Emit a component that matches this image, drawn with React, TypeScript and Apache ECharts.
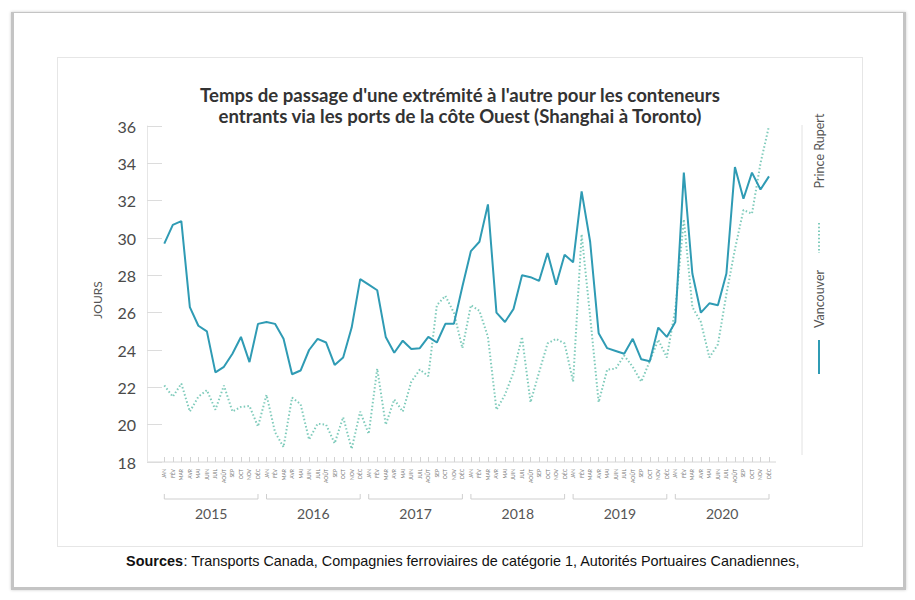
import React, { useEffect, useRef } from 'react';
import * as echarts from 'echarts';

const years = ['2015', '2016', '2017', '2018', '2019', '2020'];
const months = ['JAN', 'FÉV', 'MAR', 'AVR', 'MAI', 'JUIN', 'JUIL', 'AOÛT', 'SEP', 'OCT', 'NOV', 'DÉC'];

const vancouver = [
  29.7, 30.7, 30.9, 26.3, 25.3, 25.0, 22.8, 23.1, 23.8, 24.7, 23.35, 25.4,
  25.5, 25.4, 24.6, 22.7, 22.9, 24.0, 24.6, 24.4, 23.2, 23.6, 25.2, 27.8,
  27.5, 27.2, 24.7, 23.85, 24.5, 24.05, 24.1, 24.7, 24.4, 25.4, 25.4, 27.4,
  29.3, 29.8, 31.8, 26.0, 25.5, 26.2, 28.0, 27.9, 27.7, 29.2, 27.5, 29.1,
  28.7, 32.5, 29.8, 24.9, 24.1, 23.95, 23.8, 24.6, 23.5, 23.4, 25.2, 24.7,
  25.5, 33.5, 28.1, 26.0, 26.5, 26.4, 28.1, 33.8, 32.1, 33.5, 32.6, 33.3,
];

const princeRupert = [
  22.1, 21.5, 22.2, 20.7, 21.5, 21.85, 20.8, 22.1, 20.7, 20.95, 21.0, 19.9,
  21.6, 19.6, 18.8, 21.45, 21.1, 19.2, 20.05, 20.0, 19.0, 20.4, 18.7, 20.7,
  19.5, 23.0, 20.0, 21.35, 20.7, 22.3, 22.95, 22.6, 26.4, 26.9, 26.0, 24.1,
  26.4, 26.1, 24.7, 20.8, 21.6, 22.8, 24.7, 21.2, 22.8, 24.35, 24.6, 24.35,
  22.3, 30.2, 25.8, 21.2, 22.95, 23.0, 23.7, 23.1, 22.3, 23.4, 24.55, 23.6,
  26.2, 31.0, 26.3, 25.5, 23.6, 24.3, 27.0, 29.4, 31.5, 31.3, 34.0, 36.0,
];

const yMin = 18;
const yMax = 36;
const yStep = 2;

const titleLines = [
  "Temps de passage d'une extrémité à l'autre pour les conteneurs",
  'entrants via les ports de la côte Ouest (Shanghai à Toronto)',
];
const yAxisName = 'JOURS';
const seriesNames = ['Vancouver', 'Prince Rupert'];
const sourcesLabel = 'Sources';
const sourcesText = ': Transports Canada, Compagnies ferroviaires de catégorie 1, Autorités Portuaires Canadiennes,';

const SOLID = '#2f9bb4';
const DOTTED = '#7fcbbb';
const FONT = 'Lato, "Open Sans", sans-serif';
const SRC_FONT = '"Liberation Sans Narrow", "Liberation Sans", sans-serif';

export default function App() {
  const ref = useRef<HTMLDivElement>(null);

  useEffect(() => {
    document.body.style.margin = '0';
    const chart = echarts.init(ref.current!, null, { renderer: 'svg' });
    const categories = years.flatMap((y) => months.map((m) => `${m} ${y}`));

    chart.setOption({
      animation: false,
      grid: { left: 164.3, right: 146, top: 126, bottom: 138, containLabel: false },
      xAxis: {
        type: 'category',
        data: categories,
        boundaryGap: false,
        axisLine: { show: false },
        axisTick: { show: true, inside: true, length: 5, alignWithLabel: true, lineStyle: { color: '#d3d3d3' } },
        axisLabel: {
          interval: 0,
          rotate: 90,
          fontSize: 5,
          color: '#777',
          margin: 7,
          fontFamily: FONT,
          formatter: (v: string) => v.split(' ')[0],
        },
        splitLine: { show: false },
      },
      yAxis: {
        type: 'value',
        min: yMin,
        max: yMax,
        interval: yStep,
        offset: 17.3,
        name: yAxisName,
        nameLocation: 'middle',
        nameGap: 44,
        nameRotate: 90,
        nameTextStyle: { fontSize: 12, color: '#555', fontFamily: FONT, padding: [0, 12, 0, 0] },
        axisLine: { show: true, lineStyle: { color: '#e6e6e6' } },
        axisTick: { show: true, inside: true, length: 15, lineStyle: { color: '#dcdcdc' } },
        axisLabel: { fontSize: 16, color: '#4a4a4a', margin: 11, fontFamily: FONT },
        splitLine: { show: false },
      },
      series: [
        {
          name: seriesNames[0],
          type: 'line',
          data: vancouver,
          symbol: 'none',
          lineStyle: { color: SOLID, width: 2 },
          z: 3,
        },
        {
          name: seriesNames[1],
          type: 'line',
          data: princeRupert,
          symbol: 'none',
          lineStyle: { color: DOTTED, width: 2, type: [1.5, 2.2] },
          z: 2,
        },
      ],
    });

    const yBottom = chart.convertToPixel({ yAxisIndex: 0 }, yMin) as number;
    const yTop = chart.convertToPixel({ yAxisIndex: 0 }, yMax) as number;
    const xFirst = chart.convertToPixel({ xAxisIndex: 0 }, 0) as number;
    const xLast = chart.convertToPixel({ xAxisIndex: 0 }, categories.length - 1) as number;
    const axisLeft = xFirst - 17.3;

    const graphics: any[] = [];
    graphics.push({
      type: 'line',
      shape: { x1: axisLeft, y1: yBottom, x2: xLast + 7, y2: yBottom },
      style: { stroke: '#d6d6d6', lineWidth: 1 },
    });
    years.forEach((yr, k) => {
      const x0 = chart.convertToPixel({ xAxisIndex: 0 }, k * 12) as number;
      const x1 = chart.convertToPixel({ xAxisIndex: 0 }, k * 12 + 11) as number;
      const by = yBottom + 37;
      graphics.push({
        type: 'polyline',
        shape: { points: [[x0, by - 5], [x0, by], [x1, by], [x1, by - 5]] },
        style: { stroke: '#cfcfcf', lineWidth: 1, fill: null },
      });
      graphics.push({
        type: 'text',
        x: (x0 + x1) / 2,
        y: by + 14,
        style: { text: yr, fontSize: 14, fill: '#555', fontFamily: FONT, align: 'center', verticalAlign: 'middle' },
      });
    });
    titleLines.forEach((t, i) => {
      graphics.push({
        type: 'text',
        x: 460,
        y: 95 + i * 21,
        style: { text: t, fontSize: 18.6, fontWeight: 'bold', fill: '#333', fontFamily: FONT, align: 'center', verticalAlign: 'middle' },
      });
    });
    graphics.push({
      type: 'line',
      shape: { x1: 802, y1: yTop - 1, x2: 802, y2: 455 },
      style: { stroke: '#e2e2e2', lineWidth: 1 },
    });
    graphics.push({
      type: 'text',
      x: 819,
      y: 151,
      rotation: Math.PI / 2,
      style: { text: seriesNames[1], fontSize: 12.5, fill: '#555', fontFamily: FONT, align: 'center', verticalAlign: 'middle' },
    });
    graphics.push({
      type: 'line',
      shape: { x1: 819, y1: 223, x2: 819, y2: 253 },
      style: { stroke: DOTTED, lineWidth: 2, lineDash: [1.5, 2.2] },
    });
    graphics.push({
      type: 'text',
      x: 819,
      y: 299,
      rotation: Math.PI / 2,
      style: { text: seriesNames[0], fontSize: 12.5, fill: '#555', fontFamily: FONT, align: 'center', verticalAlign: 'middle' },
    });
    graphics.push({
      type: 'line',
      shape: { x1: 819, y1: 340, x2: 819, y2: 374 },
      style: { stroke: SOLID, lineWidth: 2 },
    });
    graphics.push({
      type: 'text',
      x: 463,
      y: 561,
      style: {
        text: `{b|${sourcesLabel}}{r|${sourcesText}}`,
        align: 'center',
        verticalAlign: 'middle',
        rich: {
          b: { fontSize: 14.4, fontWeight: 'bold', fill: '#111', fontFamily: SRC_FONT },
          r: { fontSize: 14.4, fill: '#111', fontFamily: SRC_FONT },
        },
      },
    });

    chart.setOption({ graphic: graphics });

    return () => chart.dispose();
  }, []);

  return (
    <div style={{ position: 'fixed', left: 0, top: 0, width: 915, height: 600, background: '#fff', overflow: 'hidden' }}>
      <div
        style={{
          position: 'absolute',
          left: 11,
          top: 12,
          width: 895,
          height: 578,
          border: '1px solid #c4c4c4',
          borderRightWidth: 3,
          borderLeftWidth: 3,
          borderBottomWidth: 3,
          boxShadow: '0 0 3px rgba(0,0,0,0.2)',
          background: '#fff',
          boxSizing: 'border-box',
        }}
      />
      <div
        style={{
          position: 'absolute',
          left: 57,
          top: 57,
          width: 806,
          height: 490,
          border: '1px solid #e6e6e6',
          boxSizing: 'border-box',
        }}
      />
      <div ref={ref} style={{ position: 'absolute', left: 0, top: 0, width: 915, height: 600 }} />
    </div>
  );
}
